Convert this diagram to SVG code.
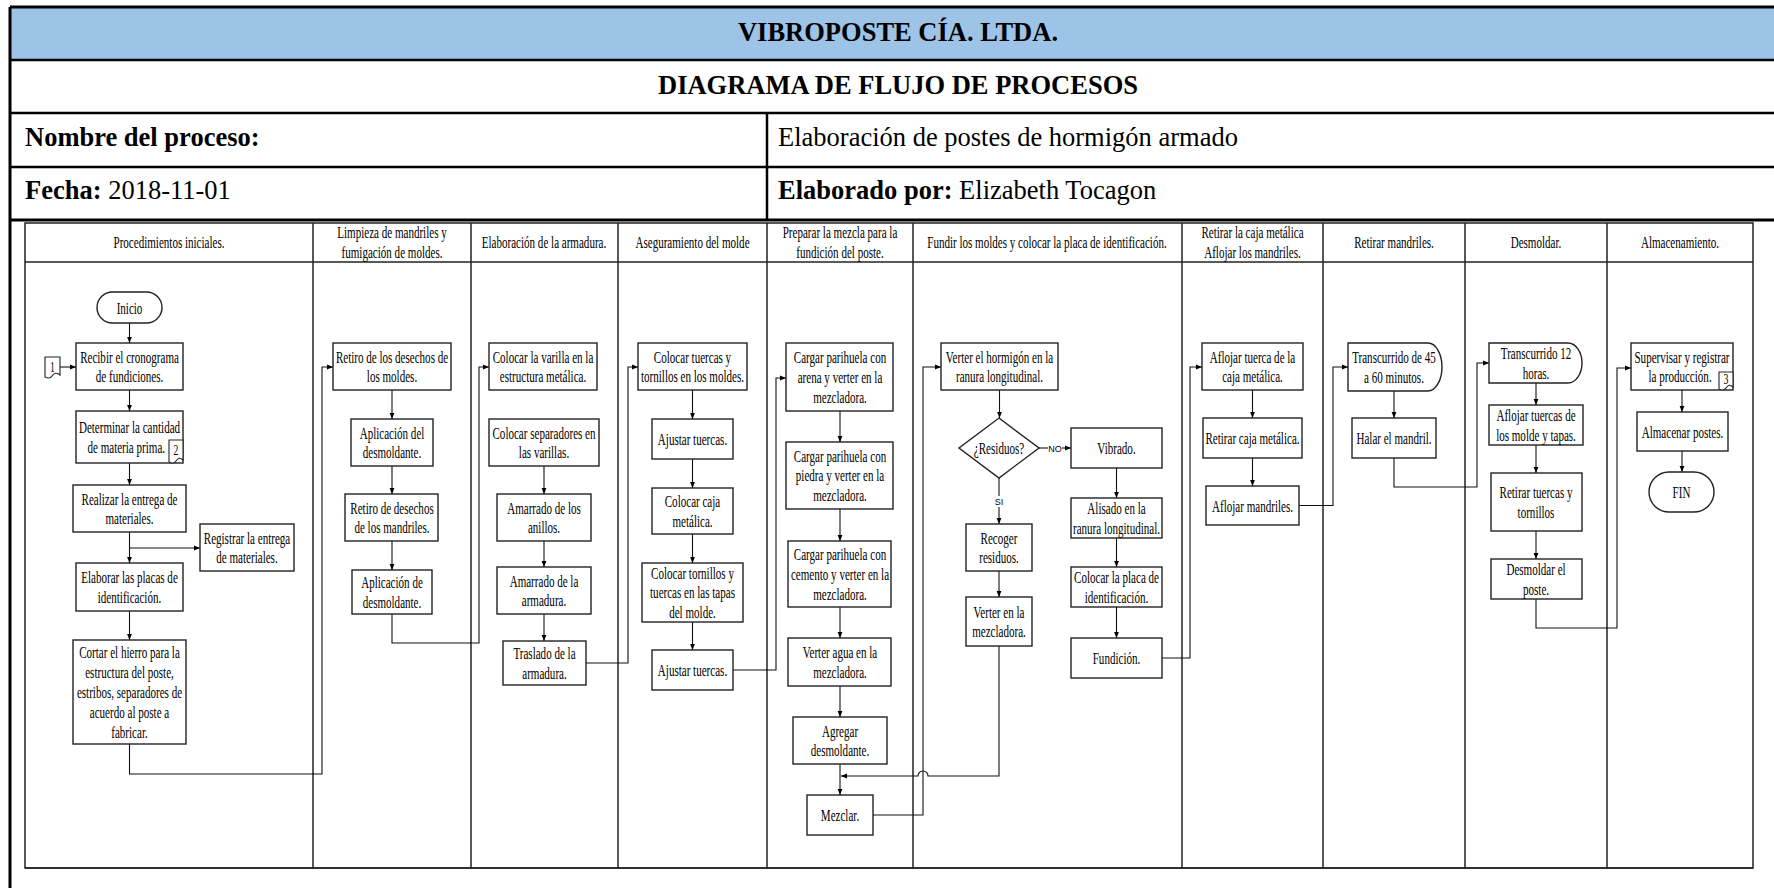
<svg xmlns="http://www.w3.org/2000/svg" width="1774" height="888" viewBox="0 0 1774 888">
  <style>
    .frame { fill: none; stroke: #000; stroke-width: 3; }
    .rule { stroke: #000; stroke-width: 2.5; }
    .lane { fill: none; stroke: #222; stroke-width: 1.5; }
    .box { fill: #fff; stroke: #222; stroke-width: 1.4; }
    .doc { fill: #fff; stroke: #222; stroke-width: 1.1; }
    .con { fill: none; stroke: #111; stroke-width: 1.1; marker-end: url(#ah); }
    .h { font-family: "Liberation Serif", "Times New Roman", serif; font-size: 26.5px; fill: #000; }
    .hb { font-weight: bold; }
    .t { font-family: "Liberation Serif", "Times New Roman", serif; font-size: 17px; fill: #000; text-anchor: middle; }
    .d { font-family: "Liberation Serif", "Times New Roman", serif; font-size: 15px; fill: #000; text-anchor: middle; }
    .lbl { font-family: "Liberation Sans", Arial, sans-serif; font-size: 9px; fill: #000; text-anchor: middle; }
  </style>
  <defs>
    <marker id="ah" viewBox="0 0 10 10" refX="10" refY="5" markerWidth="6" markerHeight="6" orient="auto" markerUnits="userSpaceOnUse">
      <path d="M0,1 L10,5 L0,9 z" fill="#000"/>
    </marker>
  </defs>

  <!-- header block -->
  <g id="header">
    <rect x="10" y="7" width="1764" height="53" fill="#9DC3E6"/>
    <line x1="10" y1="7" x2="1774" y2="7" class="frame"/>
    <line x1="10" y1="7" x2="10" y2="888" class="frame"/>
    <line x1="10" y1="60" x2="1774" y2="60" class="rule"/>
    <line x1="10" y1="113" x2="1774" y2="113" class="rule"/>
    <line x1="10" y1="167" x2="1774" y2="167" class="rule"/>
    <line x1="10" y1="220" x2="1774" y2="220" class="frame" stroke-width="3.5"/>
    <line x1="767" y1="113" x2="767" y2="220" class="rule"/>
    <text class="h hb" x="898" y="41" text-anchor="middle">VIBROPOSTE CÍA. LTDA.</text>
    <text class="h hb" x="898" y="94" text-anchor="middle">DIAGRAMA DE FLUJO DE PROCESOS</text>
    <text class="h hb" x="25" y="146">Nombre del proceso:</text>
    <text class="h" x="778" y="146">Elaboración de postes de hormigón armado</text>
    <text class="h" x="25" y="199"><tspan class="hb">Fecha:</tspan> 2018-11-01</text>
    <text class="h" x="778" y="199"><tspan class="hb">Elaborado por:</tspan> Elizabeth Tocagon</text>
  </g>

  <!-- swimlane grid -->
  <g id="lanes">
    <rect x="25" y="223" width="1728" height="645" class="lane"/>
    <line x1="25" y1="868" x2="1753" y2="868" class="lane" stroke-width="2.2"/>
    <line x1="25" y1="262" x2="1753" y2="262" class="lane"/>
    <line x1="313" y1="223" x2="313" y2="868" class="lane"/>
    <line x1="471" y1="223" x2="471" y2="868" class="lane"/>
    <line x1="618" y1="223" x2="618" y2="868" class="lane"/>
    <line x1="767" y1="223" x2="767" y2="868" class="lane"/>
    <line x1="913" y1="223" x2="913" y2="868" class="lane" stroke-width="2"/>
    <line x1="1182" y1="223" x2="1182" y2="868" class="lane" stroke-width="2"/>
    <line x1="1323" y1="223" x2="1323" y2="868" class="lane"/>
    <line x1="1465" y1="223" x2="1465" y2="868" class="lane"/>
    <line x1="1607" y1="223" x2="1607" y2="868" class="lane"/>
    <text class="t" transform="translate(169 248) scale(.65 1)">Procedimientos iniciales.</text>
    <text class="t" transform="translate(392 238) scale(.65 1)"><tspan x="0" y="0">Limpieza de mandriles y</tspan><tspan x="0" y="20">fumigación de moldes.</tspan></text>
    <text class="t" transform="translate(544 248) scale(.65 1)">Elaboración de la armadura.</text>
    <text class="t" transform="translate(692.5 248) scale(.65 1)">Aseguramiento del molde</text>
    <text class="t" transform="translate(840 238) scale(.65 1)"><tspan x="0" y="0">Preparar la mezcla para la</tspan><tspan x="0" y="20">fundición del poste.</tspan></text>
    <text class="t" transform="translate(1047 248) scale(.65 1)">Fundir los moldes y colocar la placa de identificación.</text>
    <text class="t" transform="translate(1252.5 238) scale(.65 1)"><tspan x="0" y="0">Retirar la caja metálica</tspan><tspan x="0" y="20">Aflojar los mandriles.</tspan></text>
    <text class="t" transform="translate(1394 248) scale(.65 1)">Retirar mandriles.</text>
    <text class="t" transform="translate(1536 248) scale(.65 1)">Desmoldar.</text>
    <text class="t" transform="translate(1680 248) scale(.65 1)">Almacenamiento.</text>
  </g>

  <!-- connectors -->
  <g id="connectors">
    <path class="con" d="M129.5,323 V343"/>
    <path class="con" d="M60,367 H76"/>
    <path class="con" d="M129.5,390 V411"/>
    <path class="con" d="M129.5,463 V485"/>
    <path class="con" d="M129.5,532 V563"/>
    <path class="con" d="M129.5,548 H200"/>
    <path class="con" d="M129.5,611 V640"/>
    <path class="con" d="M129.5,744 V774 H322 V367 H333"/>
    <path class="con" d="M392,390 V419"/>
    <path class="con" d="M392,466 V494"/>
    <path class="con" d="M392,541 V570"/>
    <path class="con" d="M392,614 V643 H479 V367 H489"/>
    <path class="con" d="M544,466 V494"/>
    <path class="con" d="M544,541 V567"/>
    <path class="con" d="M544,614 V641"/>
    <path class="con" d="M586,663 H628 V367 H638"/>
    <path class="con" d="M692.5,390 V419"/>
    <path class="con" d="M692.5,459 V488"/>
    <path class="con" d="M692.5,534 V563"/>
    <path class="con" d="M692.5,622 V650"/>
    <path class="con" d="M733,670 H776 V378 H786"/>
    <path class="con" d="M840,411 V442"/>
    <path class="con" d="M840,509 V541"/>
    <path class="con" d="M840,607 V638"/>
    <path class="con" d="M840,686 V717"/>
    <path class="con" d="M840,764 V795"/>
    <path class="con" d="M873,815 H923 V367 H941"/>
    <path class="con" d="M999.5,390 V418"/>
    <path class="con" d="M1039,448 H1071"/>
    <path class="con" d="M999,478 V524"/>
    <path class="con" d="M999,571 V597"/>
    <path class="con" d="M999,646 V776 H928 A5,5 0 0 0 918,776 H841"/>
    <path class="con" d="M1116.5,468 V498"/>
    <path class="con" d="M1116.5,538 V567"/>
    <path class="con" d="M1116.5,607 V638"/>
    <path class="con" d="M1162,658 H1190 V367 H1202"/>
    <path class="con" d="M1252.5,390 V418"/>
    <path class="con" d="M1252.5,458 V486"/>
    <path class="con" d="M1299,505.5 H1333 V367 H1348"/>
    <path class="con" d="M1394,391 V418"/>
    <path class="con" d="M1394,458 V487 H1477 V363 H1489"/>
    <path class="con" d="M1536,383 V405"/>
    <path class="con" d="M1536,445 V473"/>
    <path class="con" d="M1536,531 V559"/>
    <path class="con" d="M1536,599 V628 H1617 V368 H1631"/>
    <path class="con" d="M1682,390 V412"/>
    <path class="con" d="M1682,451 V472"/>
    <rect x="1048" y="443" width="14" height="10" fill="#fff"/>
    <text class="lbl" x="1055" y="451.5">NO</text>
    <rect x="993" y="496" width="12" height="11" fill="#fff"/>
    <text class="lbl" x="999" y="505">SI</text>
  </g>

  <!-- lane 1: procedimientos iniciales -->
  <g id="n-inicio">
    <rect x="97" y="292" width="65" height="31" rx="15.5" class="box"/>
    <text class="t" transform="translate(129.5 313.5) scale(.65 1)">Inicio</text>
  </g>
  <g id="n-doc1">
    <path class="doc" d="M45,357 H60 V375 C57,372 54,373 52,376 C50,379 47,378 45,377 Z"/>
    <text class="d" transform="translate(52.5 372) scale(.65 1)">1</text>
  </g>
  <g id="n-recibir">
    <rect x="76" y="343" width="107" height="47" class="box"/>
    <text class="t" transform="translate(129.5 362.5) scale(.65 1)"><tspan x="0" y="0">Recibir el cronograma</tspan><tspan x="0" y="20">de fundiciones.</tspan></text>
  </g>
  <g id="n-determinar">
    <rect x="76" y="411" width="107" height="52" class="box"/>
    <text class="t" transform="translate(129.5 433) scale(.65 1)"><tspan x="0" y="0">Determinar la cantidad</tspan><tspan x="-5" y="20">de materia prima.</tspan></text>
    <path class="doc" d="M169,440 H183 V460 C180,457 178,458 176,461 C174,464 171,463 169,462 Z"/>
    <text class="d" transform="translate(176 455) scale(.65 1)">2</text>
  </g>
  <g id="n-realizar">
    <rect x="73" y="485" width="113" height="47" class="box"/>
    <text class="t" transform="translate(129.5 504.5) scale(.65 1)"><tspan x="0" y="0">Realizar la entrega de</tspan><tspan x="0" y="20">materiales.</tspan></text>
  </g>
  <g id="n-registrar">
    <rect x="200" y="524" width="94" height="47" class="box"/>
    <text class="t" transform="translate(247 543.5) scale(.65 1)"><tspan x="0" y="0">Registrar la entrega</tspan><tspan x="0" y="20">de materiales.</tspan></text>
  </g>
  <g id="n-placas">
    <rect x="76" y="563" width="107" height="48" class="box"/>
    <text class="t" transform="translate(129.5 583) scale(.65 1)"><tspan x="0" y="0">Elaborar las placas de</tspan><tspan x="0" y="20">identificación.</tspan></text>
  </g>
  <g id="n-cortar">
    <rect x="73" y="640" width="113" height="104" class="box"/>
    <text class="t" transform="translate(129.5 658) scale(.65 1)"><tspan x="0" y="0">Cortar el hierro para la</tspan><tspan x="0" y="20">estructura del poste,</tspan><tspan x="0" y="40">estribos, separadores de</tspan><tspan x="0" y="60">acuerdo al poste a</tspan><tspan x="0" y="80">fabricar.</tspan></text>
  </g>

  <!-- lane 2: limpieza -->
  <g id="n-retiro-moldes">
    <rect x="333" y="343" width="118" height="47" class="box"/>
    <text class="t" transform="translate(392 362.5) scale(.65 1)"><tspan x="0" y="0">Retiro de los desechos de</tspan><tspan x="0" y="20">los moldes.</tspan></text>
  </g>
  <g id="n-aplicacion1">
    <rect x="351" y="419" width="82" height="47" class="box"/>
    <text class="t" transform="translate(392 438.5) scale(.65 1)"><tspan x="0" y="0">Aplicación del</tspan><tspan x="0" y="20">desmoldante.</tspan></text>
  </g>
  <g id="n-retiro-mandriles">
    <rect x="345" y="494" width="93" height="47" class="box"/>
    <text class="t" transform="translate(392 513.5) scale(.65 1)"><tspan x="0" y="0">Retiro de desechos</tspan><tspan x="0" y="20">de los mandriles.</tspan></text>
  </g>
  <g id="n-aplicacion2">
    <rect x="352" y="570" width="80" height="44" class="box"/>
    <text class="t" transform="translate(392 588) scale(.65 1)"><tspan x="0" y="0">Aplicación de</tspan><tspan x="0" y="20">desmoldante.</tspan></text>
  </g>

  <!-- lane 3: armadura -->
  <g id="n-varilla">
    <rect x="489" y="343" width="108" height="47" class="box"/>
    <text class="t" transform="translate(543 362.5) scale(.65 1)"><tspan x="0" y="0">Colocar la varilla en la</tspan><tspan x="0" y="20">estructura metálica.</tspan></text>
  </g>
  <g id="n-separadores">
    <rect x="489" y="419" width="110" height="47" class="box"/>
    <text class="t" transform="translate(544 438.5) scale(.65 1)"><tspan x="0" y="0">Colocar separadores en</tspan><tspan x="0" y="20">las varillas.</tspan></text>
  </g>
  <g id="n-anillos">
    <rect x="497" y="494" width="94" height="47" class="box"/>
    <text class="t" transform="translate(544 513.5) scale(.65 1)"><tspan x="0" y="0">Amarrado de los</tspan><tspan x="0" y="20">anillos.</tspan></text>
  </g>
  <g id="n-amarrado">
    <rect x="497" y="567" width="94" height="47" class="box"/>
    <text class="t" transform="translate(544 586.5) scale(.65 1)"><tspan x="0" y="0">Amarrado de la</tspan><tspan x="0" y="20">armadura.</tspan></text>
  </g>
  <g id="n-traslado">
    <rect x="503" y="641" width="83" height="44" class="box"/>
    <text class="t" transform="translate(544.5 659) scale(.65 1)"><tspan x="0" y="0">Traslado de la</tspan><tspan x="0" y="20">armadura.</tspan></text>
  </g>

  <!-- lane 4: aseguramiento -->
  <g id="n-tuercas-moldes">
    <rect x="638" y="343" width="109" height="47" class="box"/>
    <text class="t" transform="translate(692.5 362.5) scale(.65 1)"><tspan x="0" y="0">Colocar tuercas y</tspan><tspan x="0" y="20">tornillos en los moldes.</tspan></text>
  </g>
  <g id="n-ajustar1">
    <rect x="652" y="419" width="81" height="40" class="box"/>
    <text class="t" transform="translate(692.5 445) scale(.65 1)">Ajustar tuercas.</text>
  </g>
  <g id="n-caja">
    <rect x="652" y="488" width="81" height="46" class="box"/>
    <text class="t" transform="translate(692.5 507) scale(.65 1)"><tspan x="0" y="0">Colocar caja</tspan><tspan x="0" y="20">metálica.</tspan></text>
  </g>
  <g id="n-tapas">
    <rect x="642" y="563" width="101" height="59" class="box"/>
    <text class="t" transform="translate(692.5 578.5) scale(.65 1)"><tspan x="0" y="0">Colocar tornillos y</tspan><tspan x="0" y="20">tuercas en las tapas</tspan><tspan x="0" y="40">del molde.</tspan></text>
  </g>
  <g id="n-ajustar2">
    <rect x="652" y="650" width="81" height="40" class="box"/>
    <text class="t" transform="translate(692.5 676) scale(.65 1)">Ajustar tuercas.</text>
  </g>

  <!-- lane 5: mezcla -->
  <g id="n-arena">
    <rect x="786" y="343" width="107" height="68" class="box"/>
    <text class="t" transform="translate(840 363) scale(.65 1)"><tspan x="0" y="0">Cargar parihuela con</tspan><tspan x="0" y="20">arena y verter en la</tspan><tspan x="0" y="40">mezcladora.</tspan></text>
  </g>
  <g id="n-piedra">
    <rect x="786" y="442" width="107" height="67" class="box"/>
    <text class="t" transform="translate(840 461.5) scale(.65 1)"><tspan x="0" y="0">Cargar parihuela con</tspan><tspan x="0" y="20">piedra y verter en la</tspan><tspan x="0" y="40">mezcladora.</tspan></text>
  </g>
  <g id="n-cemento">
    <rect x="788" y="541" width="103" height="66" class="box"/>
    <text class="t" transform="translate(840 560) scale(.65 1)"><tspan x="0" y="0">Cargar parihuela con</tspan><tspan x="0" y="20">cemento y verter en la</tspan><tspan x="0" y="40">mezcladora.</tspan></text>
  </g>
  <g id="n-agua">
    <rect x="788" y="638" width="103" height="48" class="box"/>
    <text class="t" transform="translate(840 658) scale(.65 1)"><tspan x="0" y="0">Verter agua en la</tspan><tspan x="0" y="20">mezcladora.</tspan></text>
  </g>
  <g id="n-agregar">
    <rect x="793" y="717" width="94" height="47" class="box"/>
    <text class="t" transform="translate(840 736.5) scale(.65 1)"><tspan x="0" y="0">Agregar</tspan><tspan x="0" y="20">desmoldante.</tspan></text>
  </g>
  <g id="n-mezclar">
    <rect x="807" y="795" width="66" height="40" class="box"/>
    <text class="t" transform="translate(840 821) scale(.65 1)">Mezclar.</text>
  </g>

  <!-- lane 6: fundir -->
  <g id="n-verter-hormigon">
    <rect x="941" y="343" width="117" height="47" class="box"/>
    <text class="t" transform="translate(999.5 362.5) scale(.65 1)"><tspan x="0" y="0">Verter el hormigón en la</tspan><tspan x="0" y="20">ranura longitudinal.</tspan></text>
  </g>
  <g id="n-residuos">
    <polygon points="999,418 1039,448 999,478 959,448" class="box"/>
    <text class="t" transform="translate(999 454) scale(.65 1)">¿Residuos?</text>
  </g>
  <g id="n-vibrado">
    <rect x="1071" y="428" width="91" height="40" class="box"/>
    <text class="t" transform="translate(1116.5 454) scale(.65 1)">Vibrado.</text>
  </g>
  <g id="n-alisado">
    <rect x="1071" y="498" width="91" height="40" class="box"/>
    <text class="t" transform="translate(1116.5 514) scale(.65 1)"><tspan x="0" y="0">Alisado en la</tspan><tspan x="0" y="20">ranura longitudinal.</tspan></text>
  </g>
  <g id="n-placa">
    <rect x="1071" y="567" width="91" height="40" class="box"/>
    <text class="t" transform="translate(1116.5 583) scale(.65 1)"><tspan x="0" y="0">Colocar la placa de</tspan><tspan x="0" y="20">identificación.</tspan></text>
  </g>
  <g id="n-fundicion">
    <rect x="1071" y="638" width="91" height="40" class="box"/>
    <text class="t" transform="translate(1116.5 664) scale(.65 1)">Fundición.</text>
  </g>
  <g id="n-recoger">
    <rect x="966" y="524" width="66" height="47" class="box"/>
    <text class="t" transform="translate(999 543.5) scale(.65 1)"><tspan x="0" y="0">Recoger</tspan><tspan x="0" y="20">residuos.</tspan></text>
  </g>
  <g id="n-verter-mezcladora">
    <rect x="966" y="597" width="66" height="49" class="box"/>
    <text class="t" transform="translate(999 617.5) scale(.65 1)"><tspan x="0" y="0">Verter en la</tspan><tspan x="0" y="20">mezcladora.</tspan></text>
  </g>

  <!-- lane 7: caja metálica -->
  <g id="n-aflojar-tuerca">
    <rect x="1202" y="343" width="101" height="47" class="box"/>
    <text class="t" transform="translate(1252.5 362.5) scale(.65 1)"><tspan x="0" y="0">Aflojar tuerca de la</tspan><tspan x="0" y="20">caja metálica.</tspan></text>
  </g>
  <g id="n-retirar-caja">
    <rect x="1203" y="418" width="99" height="40" class="box"/>
    <text class="t" transform="translate(1252.5 444) scale(.65 1)">Retirar caja metálica.</text>
  </g>
  <g id="n-aflojar-mandriles">
    <rect x="1206" y="486" width="93" height="39" class="box"/>
    <text class="t" transform="translate(1252.5 511.5) scale(.65 1)">Aflojar mandriles.</text>
  </g>

  <!-- lane 8: mandriles -->
  <g id="n-espera45">
    <path class="box" d="M1348,343 H1428 A14,24 0 0 1 1428,391 H1348 Z"/>
    <text class="t" transform="translate(1394 363) scale(.65 1)"><tspan x="0" y="0">Transcurrido de 45</tspan><tspan x="0" y="20">a 60 minutos.</tspan></text>
  </g>
  <g id="n-halar">
    <rect x="1352" y="418" width="84" height="40" class="box"/>
    <text class="t" transform="translate(1394 444) scale(.65 1)">Halar el mandril.</text>
  </g>

  <!-- lane 9: desmoldar -->
  <g id="n-espera12">
    <path class="box" d="M1489,343 H1568 A14,20 0 0 1 1568,383 H1489 Z"/>
    <text class="t" transform="translate(1536 359) scale(.65 1)"><tspan x="0" y="0">Transcurrido 12</tspan><tspan x="0" y="20">horas.</tspan></text>
  </g>
  <g id="n-aflojar-tapas">
    <rect x="1489" y="405" width="94" height="40" class="box"/>
    <text class="t" transform="translate(1536 421) scale(.65 1)"><tspan x="0" y="0">Aflojar tuercas de</tspan><tspan x="0" y="20">los molde y tapas.</tspan></text>
  </g>
  <g id="n-retirar-tuercas">
    <rect x="1491" y="473" width="91" height="58" class="box"/>
    <text class="t" transform="translate(1536 498) scale(.65 1)"><tspan x="0" y="0">Retirar tuercas y</tspan><tspan x="0" y="20">tornillos</tspan></text>
  </g>
  <g id="n-desmoldar">
    <rect x="1491" y="559" width="91" height="40" class="box"/>
    <text class="t" transform="translate(1536 575) scale(.65 1)"><tspan x="0" y="0">Desmoldar el</tspan><tspan x="0" y="20">poste.</tspan></text>
  </g>

  <!-- lane 10: almacenamiento -->
  <g id="n-supervisar">
    <rect x="1631" y="343" width="102" height="47" class="box"/>
    <text class="t" transform="translate(1682 362.5) scale(.65 1)"><tspan x="0" y="0">Supervisar y registrar</tspan><tspan x="-3" y="20">la producción.</tspan></text>
    <path class="doc" d="M1719,372 H1733 V387 C1730,384 1728,385 1726,388 C1724,391 1721,390 1719,389 Z"/>
    <text class="d" transform="translate(1726 384) scale(.65 1)">3</text>
  </g>
  <g id="n-almacenar">
    <rect x="1637" y="412" width="91" height="39" class="box"/>
    <text class="t" transform="translate(1682.5 437.5) scale(.65 1)">Almacenar postes.</text>
  </g>
  <g id="n-fin">
    <rect x="1649" y="472" width="65" height="40" rx="20" class="box"/>
    <text class="t" transform="translate(1681.5 498) scale(.65 1)">FIN</text>
  </g>
</svg>
